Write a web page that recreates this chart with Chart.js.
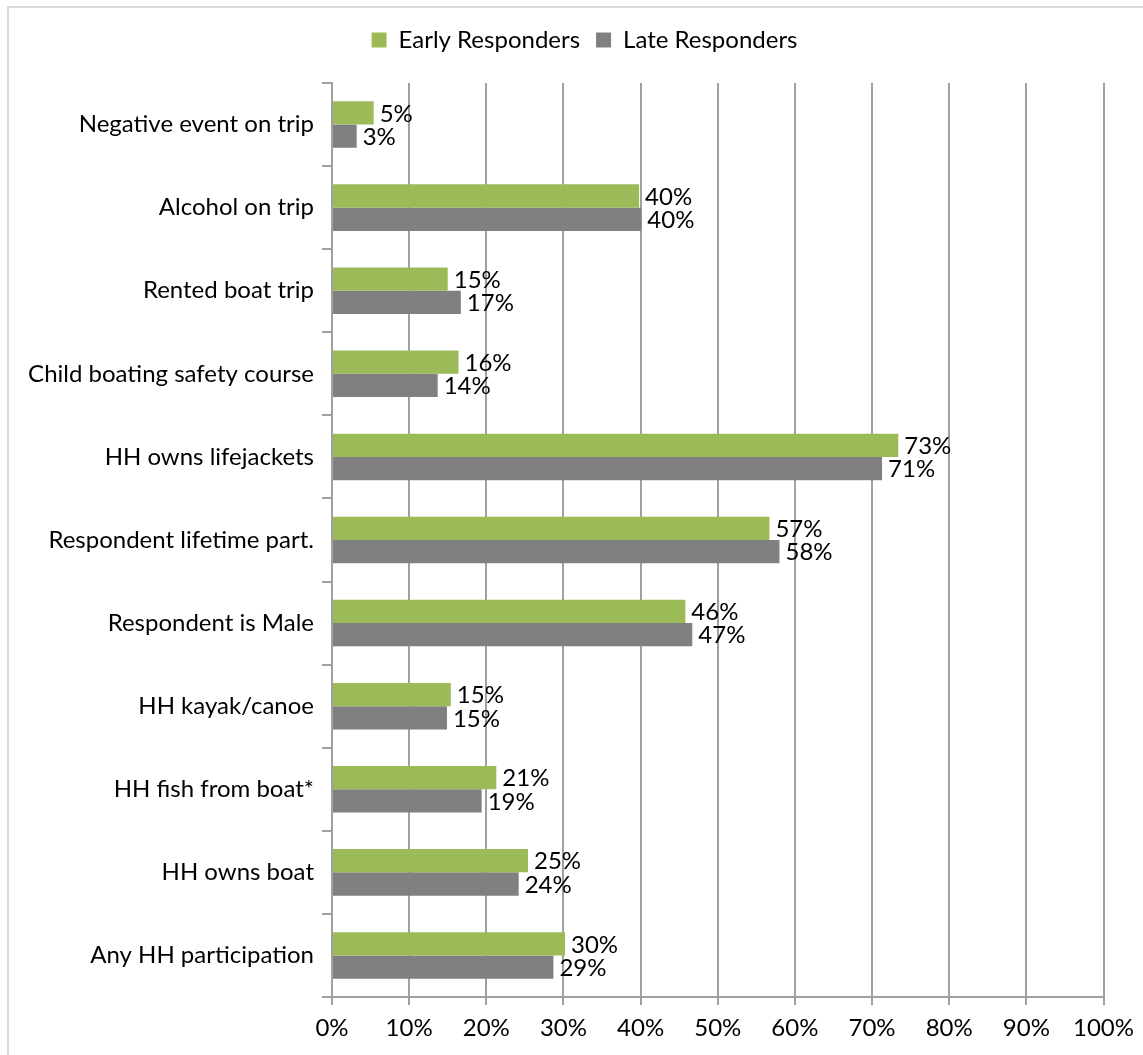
<!DOCTYPE html>
<html>
<head>
<meta charset="utf-8">
<script src="https://cdn.jsdelivr.net/npm/chart.js@4.4.0/dist/chart.umd.min.js"></script>
<style>
    html, body { margin: 0; padding: 0; background: #fff; }
    #wrap {
        position: absolute; left: 0; top: 0;
        width: 1143px; height: 1055px;
    }
    #frame {
        position: absolute; left: 7px; top: 6px;
        width: 1150px; height: 1060px;
        border-left: 2px solid #d9d9d9;
        border-top: 2px solid #d9d9d9;
        pointer-events: none;
    }
</style>
</head>
<body>
<div id="wrap">
    <canvas id="responderChart" width="1143" height="1055"></canvas>
    <div id="frame"></div>
</div>
<script>
const categories = [
    'Negative event on trip',
    'Alcohol on trip',
    'Rented boat trip',
    'Child boating safety course',
    'HH owns lifejackets',
    'Respondent lifetime part.',
    'Respondent is Male',
    'HH kayak/canoe',
    'HH fish from boat*',
    'HH owns boat',
    'Any HH participation'
];
const earlyResponders = [5.4, 39.8, 15.0, 16.4, 73.4, 56.7, 45.8, 15.4, 21.3, 25.4, 30.2];
const lateResponders = [3.2, 40.1, 16.7, 13.7, 71.3, 58.0, 46.7, 14.9, 19.4, 24.2, 28.7];
const xTicks = [0, 10, 20, 30, 40, 50, 60, 70, 80, 90, 100];

const FONT = 'Lato';
const gridGray = '#a0a0a0';

// percent labels just past the end of each bar
const barValueLabels = {
    id: 'barValueLabels',
    afterDatasetsDraw(chart) {
        const ctx = chart.ctx;
        ctx.save();
        ctx.font = '24px ' + FONT;
        ctx.fillStyle = '#000';
        ctx.textAlign = 'left';
        ctx.textBaseline = 'middle';
        chart.data.datasets.forEach((ds, i) => {
            chart.getDatasetMeta(i).data.forEach((bar, j) => {
                ctx.fillText(Math.round(ds.data[j]) + '%', bar.x + 6, bar.y + 1);
            });
        });
        ctx.restore();
    }
};

// fixed legend band height, and centre the legend on the whole frame
const legendBand = {
    id: 'legendBand',
    beforeInit(chart) {
        const fit = chart.legend.fit;
        chart.legend.fit = function () {
            fit.bind(chart.legend)();
            this.height = 73;
        };
    },
    afterLayout(chart) {
        chart.legend.left += 27;
        chart.legend.right += 27;
        chart.legend.top += 2;
        chart.legend.bottom += 2;
    }
};

const data = {
    labels: categories,
    datasets: [{
        label: 'Early Responders',
        backgroundColor: '#9bbb59',
        data: earlyResponders,
    }, {
        label: 'Late Responders',
        backgroundColor: '#808080',
        data: lateResponders,
    }]
};

const config = {
    type: 'bar',
    data: data,
    options: {
        indexAxis: 'y',
        responsive: false,
        animation: false,
        layout: { padding: { left: 10, right: 38, top: 10, bottom: 0 } },
        datasets: {
            bar: { categoryPercentage: 0.56, barPercentage: 1.0 }
        },
        plugins: {
            legend: {
                position: 'top',
                labels: {
                    boxWidth: 15,
                    boxHeight: 15,
                    color: '#000',
                    font: { family: FONT, size: 24 },
                    padding: 16
                }
            },
            tooltip: { enabled: false }
        },
        scales: {
            x: {
                min: 0,
                max: 100,
                afterBuildTicks(scale) {
                    scale.ticks = xTicks.map(v => ({ value: v }));
                },
                afterFit(scale) { scale.height = 58; },
                grid: {
                    color: gridGray,
                    lineWidth: 2,
                    tickLength: 8,
                    drawTicks: true
                },
                border: { display: true, color: gridGray, width: 2 },
                ticks: {
                    color: '#000',
                    padding: 9,
                    maxRotation: 0,
                    font: { family: FONT, size: 24 },
                    callback: v => v + '%'
                }
            },
            y: {
                afterFit(scale) { scale.width = 322; },
                grid: {
                    offset: true,
                    drawOnChartArea: false,
                    color: gridGray,
                    lineWidth: 2,
                    tickLength: 10
                },
                border: { display: true, color: gridGray, width: 2 },
                ticks: {
                    color: '#000',
                    padding: 8,
                    font: { family: FONT, size: 24 }
                }
            }
        }
    },
    plugins: [barValueLabels, legendBand]
};

const responderChart = new Chart(
    document.getElementById('responderChart'),
    config
);
</script>
</body>
</html>
